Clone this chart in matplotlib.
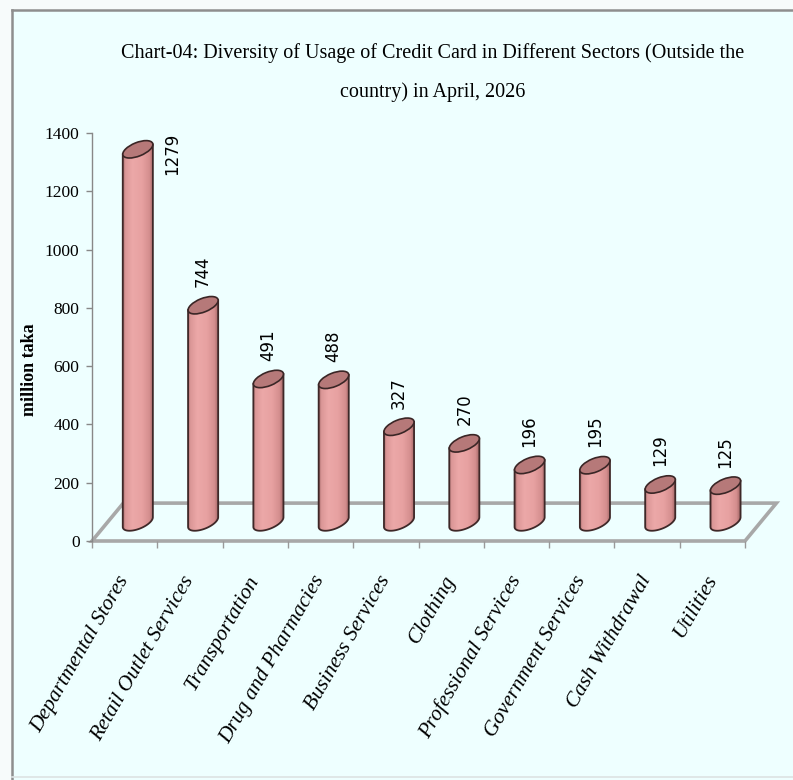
import numpy as np
import matplotlib
matplotlib.use("Agg")
import matplotlib.pyplot as plt
from matplotlib.patches import Ellipse, Polygon, Rectangle
from matplotlib.lines import Line2D
from matplotlib.transforms import ScaledTranslation
from matplotlib.colors import LinearSegmentedColormap

# ---------------- data ----------------
categories = ["Departmental Stores", "Retail Outlet Services", "Transportation",
              "Drug and Pharmacies", "Business Services", "Clothing",
              "Professional Services", "Government Services", "Cash Withdrawal",
              "Utilities"]
values = [1279, 744, 491, 488, 327, 270, 196, 195, 129, 125]
y_ticks = [0, 200, 400, 600, 800, 1000, 1200, 1400]
title_line1 = "Chart-04: Diversity of Usage of Credit Card in Different Sectors (Outside the"
title_line2 = "country) in April, 2026"
y_label = "million taka"

# ---------------- figure ----------------
W, H, DPI = 793, 780, 100
fig = plt.figure(figsize=(W / DPI, H / DPI), dpi=DPI, facecolor="#F7FBFB")

# chart area with frame
fig.add_artist(Rectangle((12 / W, 0), 1, (H - 10) / H, transform=fig.transFigure,
                         facecolor="#EEFFFF", edgecolor="none", zorder=-5))
fig.add_artist(Line2D([12 / W, 12 / W], [0, (H - 10) / H], transform=fig.transFigure,
                      color="#8E8E8E", lw=1.8, zorder=-4))
fig.add_artist(Line2D([12 / W, 1], [(H - 10) / H] * 2, transform=fig.transFigure,
                      color="#8E8E8E", lw=1.8, zorder=-4))
fig.add_artist(Line2D([12 / W, 1], [3 / H] * 2, transform=fig.transFigure,
                      color="#DDE3E3", lw=1.2, zorder=-4))

ax = fig.add_axes([92 / W, (H - 541) / H, 653 / W, 408 / H])
ax.set_facecolor("none")

n = len(values)
xlim = (-0.5, n - 0.5)
ylim = (0, 1400)
ax.set_xlim(*xlim)
ax.set_ylim(*ylim)
ax.set_autoscale_on(False)

# 3-D floor (depth offsets in data units)
depth_dx, depth_dy = 0.48, 130
floor = Polygon([(xlim[0], 0), (xlim[1], 0), (xlim[1] + depth_dx, depth_dy),
                 (xlim[0] + depth_dx, depth_dy)], closed=True, facecolor="none",
                edgecolor="#A8A8A8", lw=2.6, zorder=1, clip_on=False, joinstyle="miter")
ax.add_patch(floor)

# cylinders
xc = np.arange(n) + depth_dx * 0.42
base = depth_dy / 2
bw = 0.46
body_cmap = LinearSegmentedColormap.from_list(
    "cyl", [(0, "#A86A6A"), (0.07, "#DA9696"), (0.3, "#ECA8A8"), (0.62, "#E7A1A1"),
            (0.86, "#D48E8E"), (1, "#9C6060")])
grad = np.linspace(0, 1, 128).reshape(1, -1)

bars = ax.bar(xc, values, width=bw, bottom=base, color="#E6A0A0", edgecolor="none", zorder=3)

# screen-space ellipse geometry of the cylinder caps (pixels)
a_px, b_px, ang = 16.0, 6.8, np.deg2rad(22)
t0 = np.arctan(-(b_px / a_px) * np.tan(ang))


def ell_pts(t):
    return np.column_stack([a_px * np.cos(t) * np.cos(ang) - b_px * np.sin(t) * np.sin(ang),
                            a_px * np.cos(t) * np.sin(ang) + b_px * np.sin(t) * np.cos(ang)])


bottom_arc = ell_pts(np.linspace(t0 + np.pi, t0 + 2 * np.pi, 60))   # left -> bottom -> right
top_arc = ell_pts(np.linspace(t0, t0 + np.pi, 60))                   # right -> top -> left
inv = ax.transData.inverted()
ext = 12 / (408 / (ylim[1] - ylim[0]))

for bar, x, v in zip(bars, xc, values):
    p_base = ax.transData.transform((x, base))
    p_top = ax.transData.transform((x, base + v))
    sil = np.vstack([p_base + bottom_arc, p_top + top_arc])
    sil_data = inv.transform(sil)
    silhouette = Polygon(sil_data, closed=True, facecolor="none", edgecolor="none")
    ax.add_patch(silhouette)
    bar.set_clip_path(silhouette)
    x0 = bar.get_x()
    im = ax.imshow(grad, extent=[x0, x0 + bw, base - ext, base + v + ext], cmap=body_cmap,
                   aspect="auto", zorder=3.1, interpolation="bilinear")
    im.set_clip_path(silhouette)
    # outline: left side, bottom arc, right side
    outline = inv.transform(np.vstack([p_top + top_arc[-1:], p_base + bottom_arc,
                                       p_top + top_arc[:1]]))
    ax.plot(outline[:, 0], outline[:, 1], color="#3E2828", lw=1.3, zorder=3.3,
            solid_joinstyle="round")
    # top cap
    ax.add_patch(Ellipse((0, 0), 2 * a_px / DPI, 2 * b_px / DPI, angle=np.rad2deg(ang),
                         transform=fig.dpi_scale_trans + ScaledTranslation(x, base + v, ax.transData),
                         facecolor="#B67979", edgecolor="#3A2626", lw=1.2, zorder=5))

# value labels
px_per_unit = 408 / (ylim[1] - ylim[0])
lab_off = 18 / px_per_unit
lab_len = 180
for x, v in zip(xc, values):
    y = base + v + lab_off
    if y + lab_len > ylim[1]:
        ax.text(x + 0.52, ylim[1], f"{v}", rotation=90, ha="center", va="top",
                fontsize=12, family="DejaVu Sans", color="black", zorder=6)
    else:
        ax.text(x, y, f"{v}", rotation=90, ha="center", va="bottom",
                fontsize=12, family="DejaVu Sans", color="black", zorder=6)

# axes styling
for s in ["top", "right", "bottom"]:
    ax.spines[s].set_visible(False)
ax.spines["left"].set_color("#888888")
ax.spines["left"].set_linewidth(1.0)

ax.set_yticks(y_ticks)
ax.set_yticklabels([str(t) for t in y_ticks], family="Liberation Serif", fontsize=12.5)
ax.tick_params(axis="y", length=4, width=1, color="#888888", pad=5)

ax.set_xticks(np.arange(n))
ax.set_xticks(np.arange(n + 1) - 0.5, minor=True)
ax.set_xticklabels(categories, rotation=60, ha="right", va="center",
                   rotation_mode="anchor", family="Liberation Serif",
                   fontstyle="italic", fontsize=15.5)
ax.tick_params(axis="x", which="major", length=0, pad=26)
ax.tick_params(axis="x", which="minor", length=5, width=1, color="#999999")

ax.set_ylabel(y_label, family="Liberation Serif", fontweight="bold", fontsize=13)
ax.yaxis.set_label_coords(-0.083, 0.42)

# title
fig.text(433 / W, 1 - 53 / H, title_line1, ha="center", va="center",
         family="Liberation Serif", fontsize=14.5)
fig.text(433 / W, 1 - 92 / H, title_line2, ha="center", va="center",
         family="Liberation Serif", fontsize=14.5)

fig.savefig("out.png", dpi=DPI, facecolor=fig.get_facecolor())
